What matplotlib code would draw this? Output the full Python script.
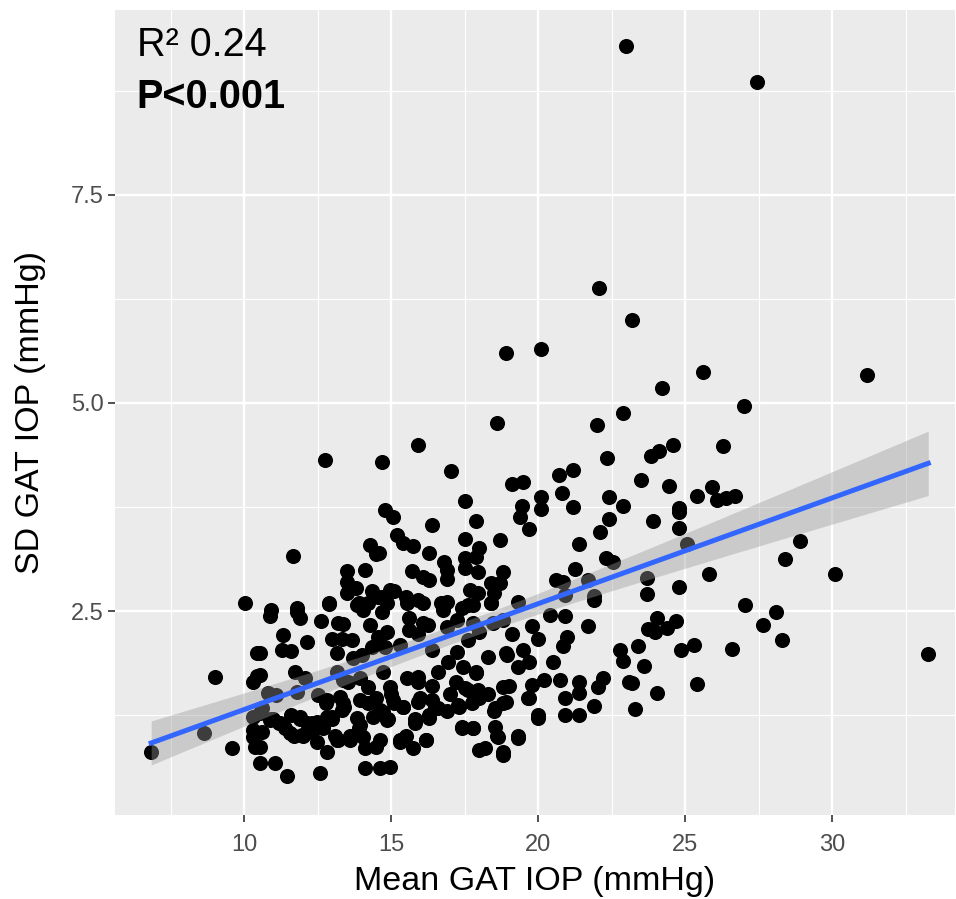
import numpy as np
import matplotlib
matplotlib.use("Agg")
import matplotlib.pyplot as plt

plt.rcParams['font.family'] = ['Liberation Sans', 'DejaVu Sans']

# Mean GAT IOP (mmHg) / SD GAT IOP (mmHg)
mean_iop = [
    23.0, 27.45, 22.07, 23.2, 18.9, 20.1, 25.6, 31.2, 24.2, 27.0, 22.9, 18.6, 22.0,
    12.75, 14.7, 15.9, 24.6, 24.1, 22.35, 26.3, 23.85, 17.04, 21.2, 20.7, 19.1, 19.5,
    20.1, 20.8, 22.4, 22.9, 19.46, 20.1, 21.2, 19.4, 22.4, 19.7, 22.1, 21.4, 18.7,
    22.3, 22.55, 21.26, 18.8, 20.6, 20.85, 21.7, 21.9, 20.9, 19.3, 18.7,
    23.5, 24.46, 25.4, 25.9, 26.1, 26.4, 26.7, 24.8, 23.9, 24.8, 24.8, 25.07, 23.7,
    23.7, 24.8, 25.8, 28.9, 28.4, 30.1, 27.04, 28.1, 27.65, 28.3, 26.6, 33.27, 24.05,
    24.7, 23.74, 23.98, 24.4, 23.4, 24.86, 25.3, 22.8, 22.9, 23.6, 23.2, 24.05, 25.4,
    23.3, 6.84,
    21.9, 20.4, 20.9, 21.7, 19.8, 20.0, 21.0, 20.85, 19.1, 18.9, 19.5, 19.7, 19.3,
    20.5, 20.2, 19.8, 20.75, 21.4, 21.4, 22.2, 22.05, 19.66, 20.9, 21.9, 20.9, 21.4,
    20.0, 19.3, 18.8, 23.1,
    17.5, 14.8, 15.07, 17.9, 16.4, 15.2, 15.4, 15.75, 17.5, 14.6, 16.3, 16.8, 17.5,
    18.0, 17.9, 15.7, 16.1, 16.3, 16.9, 16.9, 17.5, 17.96, 18.4, 15.1, 15.5, 15.9,
    16.7, 16.9, 17.7, 17.96, 18.5, 18.4, 14.7, 17.6,
    11.67, 14.3, 14.5, 13.5, 14.1, 13.5, 13.8, 13.5, 14.35, 14.56, 14.97, 12.9, 13.9,
    14.2, 11.8, 10.9,
    10.03, 10.44, 9.0, 10.44, 10.3, 10.6, 10.3, 10.3, 10.3, 10.37, 8.64, 9.6,
    10.88, 11.8, 11.9, 12.6, 12.9, 13.2, 13.37, 13.84, 14.05, 14.7, 14.3, 11.33, 12.14,
    11.3, 11.6, 10.54, 13.0, 13.33, 13.67, 13.16, 13.7, 14.0, 14.35, 14.56, 14.86,
    10.54, 11.73, 12.07, 10.8, 11.1, 11.8, 13.16, 13.37, 13.54, 13.95, 14.2, 14.73,
    12.5, 12.82, 13.27, 13.37, 13.95, 14.2, 14.5, 10.54, 10.88, 11.22, 11.9, 12.14,
    12.48, 12.82, 13.0, 13.33, 13.84, 13.95, 14.39, 14.73, 11.56, 11.97, 12.3, 12.48,
    13.16, 13.6, 12.82, 14.05, 14.1, 14.5, 10.54, 10.54, 11.05, 11.46, 12.58, 14.1,
    14.63,
    14.86, 15.54, 16.1, 16.77, 17.4, 17.8, 18.4, 15.6, 16.1, 15.6, 15.9, 16.26, 16.9,
    17.24, 17.8, 18.0, 18.47, 18.8, 14.8, 15.3, 16.4, 17.24, 17.6, 18.3, 18.95, 16.94,
    17.45, 17.9, 15.54, 15.9, 16.6, 17.2, 17.5, 17.96, 18.8, 14.97, 15.07, 15.4, 15.9,
    16.4, 16.6, 17.28, 17.76, 17.93, 18.54, 18.9, 14.63, 14.86, 15.8, 16.3, 17.4, 17.8,
    18.54, 15.3, 15.75, 16.2, 18.65, 18.8, 18.0, 14.97, 14.63,
    # points hidden inside the dense cluster
    11.2, 11.9, 12.5, 13.0, 13.4, 12.8, 11.7, 13.2, 13.9, 12.2, 11.0, 13.6,
    15.1, 15.4, 15.8, 16.3, 16.5, 17.3, 17.8, 18.5, 18.8, 15.5, 16.2, 18.6, 17.4,
    16.0, 17.0, 17.6, 18.0, 18.3, 15.0, 15.9, 16.4, 17.9, 19.7, 19.3, 20.0, 19.0,
    14.9, 15.3, 16.9, 18.2,
    10.6, 11.4, 12.0, 12.7, 10.9, 11.6, 12.3, 13.1,
]
sd_iop = [
    9.29, 8.86, 6.38, 6.0, 5.6, 5.65, 5.37, 5.34, 5.18, 4.96, 4.88, 4.76, 4.74,
    4.31, 4.29, 4.5, 4.5, 4.42, 4.34, 4.48, 4.36, 4.18, 4.19, 4.13, 4.03, 4.05,
    3.87, 3.92, 3.87, 3.76, 3.76, 3.73, 3.75, 3.63, 3.6, 3.49, 3.45, 3.3, 3.35,
    3.14, 3.09, 3.0, 2.97, 2.87, 2.85, 2.87, 2.68, 2.69, 2.61, 2.84,
    4.07, 4.0, 3.88, 3.99, 3.83, 3.86, 3.88, 3.74, 3.58, 3.69, 3.5, 3.3, 2.9,
    2.7, 2.79, 2.95, 3.34, 3.13, 2.95, 2.57, 2.49, 2.33, 2.15, 2.05, 1.98, 2.42,
    2.38, 2.29, 2.25, 2.3, 2.08, 2.03, 2.09, 2.03, 1.9, 1.84, 1.63, 1.51, 1.62,
    1.32, 0.81,
    2.63, 2.45, 2.44, 2.32, 2.32, 2.17, 2.19, 2.08, 2.23, 2.0, 2.03, 1.89, 1.83,
    1.89, 1.67, 1.61, 1.67, 1.65, 1.51, 1.69, 1.59, 1.45, 1.45, 1.36, 1.25, 1.25,
    1.21, 0.97, 0.77, 1.65,
    3.82, 3.71, 3.63, 3.58, 3.53, 3.41, 3.32, 3.28, 3.37, 3.2, 3.2, 3.09, 3.14,
    3.26, 3.15, 2.98, 2.91, 2.87, 2.99, 2.88, 3.02, 2.97, 2.84, 2.74, 2.67, 2.63,
    2.6, 2.61, 2.75, 2.72, 2.72, 2.6, 2.67, 2.57,
    3.16, 3.29, 3.19, 2.98, 2.99, 2.85, 2.78, 2.72, 2.74, 2.67, 2.75, 2.6, 2.6,
    2.6, 2.54, 2.51,
    2.6, 2.0, 1.71, 1.72, 1.65, 1.33, 1.23, 1.07, 0.99, 0.87, 1.03, 0.85,
    2.44, 2.49, 2.42, 2.38, 2.58, 2.36, 2.35, 2.57, 2.51, 2.49, 2.33, 2.21, 2.13,
    2.03, 2.02, 2.0, 2.17, 2.16, 2.15, 2.0, 1.93, 1.97, 2.07, 2.19, 2.25,
    1.73, 1.77, 1.69, 1.51, 1.49, 1.53, 1.77, 1.67, 1.65, 1.69, 1.59, 1.77,
    1.49, 1.43, 1.47, 1.39, 1.43, 1.39, 1.45, 1.27, 1.19, 1.15, 1.23, 1.15,
    1.17, 1.23, 1.23, 1.31, 1.21, 1.13, 1.23, 1.29, 1.03, 1.01, 1.05, 0.93,
    0.95, 0.95, 0.81, 0.99, 0.85, 0.87, 0.87, 0.67, 0.67, 0.52, 0.55, 0.61,
    0.61,
    2.6, 2.6, 2.6, 2.51, 2.54, 2.57, 2.6, 2.42, 2.36, 2.27, 2.23, 2.33, 2.31,
    2.39, 2.36, 2.25, 2.36, 2.39, 2.07, 2.09, 2.03, 2.01, 2.15, 1.95, 1.97, 1.89,
    1.83, 1.77, 1.69, 1.71, 1.77, 1.65, 1.57, 1.55, 1.59, 1.59, 1.43, 1.35, 1.41,
    1.43, 1.33, 1.37, 1.39, 1.47, 1.33, 1.41, 1.31, 1.19, 1.15, 1.21, 1.11, 1.09,
    1.11, 0.93, 0.85, 0.95, 0.99, 0.81, 0.83, 0.63, 0.95,
    1.15, 1.2, 1.15, 1.2, 1.35, 1.4, 1.0, 0.95, 1.1, 1.1, 1.2, 1.0,
    1.4, 1.35, 1.2, 1.25, 1.35, 1.35, 1.1, 1.3, 1.4, 1.0, 0.95, 1.0, 1.1,
    1.45, 1.5, 1.55, 1.45, 1.5, 1.5, 1.65, 1.6, 1.75, 1.45, 1.0, 1.25, 1.6,
    1.2, 0.95, 1.3, 0.85,
    1.05, 1.1, 1.0, 1.1, 1.2, 1.25, 1.15, 1.0,
]

r2_label = "R\u00b2 0.24"
p_label = "P<0.001"
x_ticks = [10, 15, 20, 25, 30]
y_ticks = [2.5, 5.0, 7.5]

x = np.array(mean_iop)
y = np.array(sd_iop)

# linear fit with 95% confidence band (like geom_smooth(method='lm'))
slope, intercept = np.polyfit(x, y, 1)
xs = np.linspace(x.min(), x.max(), 80)
ys = slope * xs + intercept
n = len(x)
resid = y - (slope * x + intercept)
s = np.sqrt(np.sum(resid ** 2) / (n - 2))
se = s * np.sqrt(1 / n + (xs - x.mean()) ** 2 / np.sum((x - x.mean()) ** 2))
ci = 1.966 * se

fig = plt.figure(figsize=(9.56, 8.99), dpi=100)
ax = fig.add_axes([115 / 956, 84 / 899, 840 / 956, 805 / 899])
ax.set_facecolor('#EBEBEB')
for sp in ax.spines.values():
    sp.set_visible(False)

ax.set_xlim(5.61, 34.18)
ax.set_ylim(0.05, 9.72)
ax.set_xticks(x_ticks)
ax.set_yticks(y_ticks)
ax.set_xticks([7.5, 12.5, 17.5, 22.5, 27.5, 32.5], minor=True)
ax.set_yticks([1.25, 3.75, 6.25, 8.75], minor=True)
ax.grid(which='major', color='white', linewidth=1.7)
ax.grid(which='minor', color='white', linewidth=0.85)
ax.set_axisbelow(True)
ax.tick_params(which='major', length=5, width=1.2, color='#333333',
               labelsize=17, labelcolor='#4D4D4D')
ax.tick_params(axis='x', pad=9)
ax.tick_params(axis='y', pad=3)
ax.tick_params(which='minor', length=0)
ax.set_yticklabels(['2.5', '5.0', '7.5'])

ax.scatter(x, y, s=118, color='black', linewidths=0, zorder=3)
ax.fill_between(xs, ys - ci, ys + ci, color='#999999', alpha=0.4, linewidth=0, zorder=4)
ax.plot(xs, ys, color='#3366FF', linewidth=3.6, zorder=5)

ax.set_xlabel('Mean GAT IOP (mmHg)', fontsize=24.5)
ax.set_ylabel('SD GAT IOP (mmHg)', fontsize=24.5)
ax.xaxis.set_label_coords(0.5, -0.083)
ax.xaxis.label.set_va('center')
ax.yaxis.set_label_coords(-0.101, 0.5)
ax.yaxis.label.set_va('center')

ax.text(0.026, 0.957, r2_label, transform=ax.transAxes, fontsize=28.5,
        va='center', ha='left')
ax.text(0.026, 0.892, p_label, transform=ax.transAxes, fontsize=28.5,
        fontweight='bold', va='center', ha='left')

fig.savefig('out.png', dpi=100)
